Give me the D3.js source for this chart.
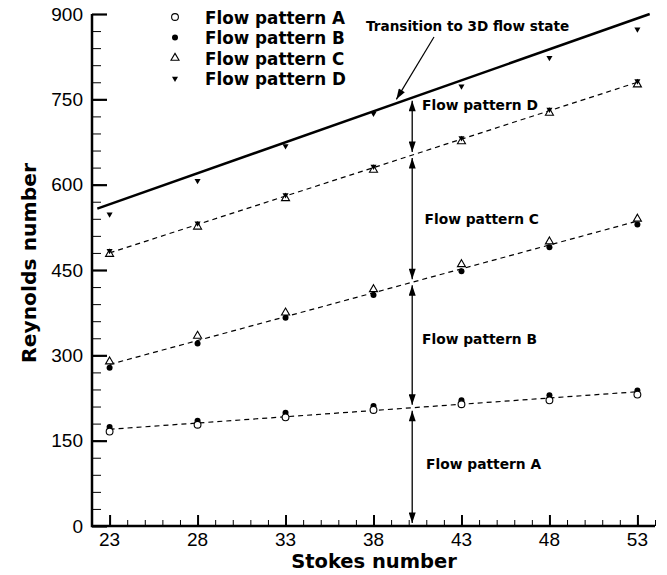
<!DOCTYPE html>
<html><head><meta charset="utf-8">
<script src="https://cdn.jsdelivr.net/npm/d3@7"></script>
<style>body{margin:0;background:#fff}svg{display:block}</style>
</head><body>
<svg id="c" width="667" height="575"></svg>
<script>
// ---- data ----
const stokes = [23, 28, 33, 38, 43, 48, 53];
const patternA = [166, 178, 191, 204, 214, 221, 231];          // open circles (upper limit of A)
const patternBLow = [174, 185, 199, 211, 221, 230, 238];       // filled circles (lower limit of B)
const patternBHigh = [278, 321, 366, 406, 448, 490, 530];      // filled circles (upper limit of B)
const patternCLow = [289, 334, 375, 416, 460, 500, 540];       // open triangles
const patternCHigh = [478, 526, 576, 626, 676, 726, 776];      // open triangles
const patternDLow = [484, 532, 582, 632, 682, 732, 782];       // filled down triangles
const patternDHigh = [548, 607, 668, 725, 773, 823, 873];      // filled down triangles
const lineAB = [[23, 170], [53, 236]];
const lineBC = [[23, 284], [53, 536]];
const lineCD = [[23, 480], [53, 780]];
const transitionLine = [[22.3, 558], [53.7, 900]];
const xMajorTicks = [23, 28, 33, 38, 43, 48, 53];
const yMajorTicks = [0, 150, 300, 450, 600, 750, 900];
const legendLabels = ["Flow pattern A", "Flow pattern B", "Flow pattern C", "Flow pattern D"];
const regionLabels = [
  {text: "Flow pattern D", x: 40.76, y: 731},
  {text: "Flow pattern C", x: 40.9, y: 531},
  {text: "Flow pattern B", x: 40.76, y: 320},
  {text: "Flow pattern A", x: 40.99, y: 100}
];
const arrowX = 40.2;
const transitionNote = {text: "Transition to 3D flow state", tipX: 39.3, tipY: 750};

// ---- chart ----
const svg = d3.select("#c");
const x = d3.scaleLinear().domain([22, 54]).range([92, 655]);
const y = d3.scaleLinear().domain([0, 900]).range([526, 14]);
const bold = "'DejaVu Sans', 'Open Sans', sans-serif";

// axes with inward ticks
const gx = svg.append("g").attr("transform", `translate(0,${y(0)})`);
gx.call(d3.axisTop(x).tickValues(d3.range(22, 55, 1)).tickSize(6).tickFormat(""));
gx.call(g => g.select(".domain").remove());
gx.selectAll("line").attr("stroke", "#000").attr("stroke-width", 1);
const gx2 = svg.append("g").attr("transform", `translate(0,${y(0)})`);
gx2.call(d3.axisTop(x).tickValues(xMajorTicks).tickSize(11).tickFormat(""));
gx2.select(".domain").remove();
gx2.selectAll("line").attr("stroke", "#000").attr("stroke-width", 2);
// x tick labels
svg.append("g").selectAll("text").data(xMajorTicks).join("text")
  .attr("x", d => x(d)).attr("y", 545.5).attr("text-anchor", "middle")
  .attr("font-family", "'Liberation Sans', Arial, sans-serif").attr("font-size", 19)
  .text(d => d);

const gy = svg.append("g").attr("transform", `translate(${x(22)},0)`);
gy.call(d3.axisRight(y).tickValues(d3.range(0, 901, 30)).tickSize(9).tickFormat(""));
gy.select(".domain").remove();
gy.selectAll("line").attr("stroke", "#000").attr("stroke-width", 1);
const gy2 = svg.append("g").attr("transform", `translate(${x(22)},0)`);
gy2.call(d3.axisRight(y).tickValues(yMajorTicks).tickSize(15).tickFormat(""));
gy2.select(".domain").remove();
gy2.selectAll("line").attr("stroke", "#000").attr("stroke-width", 2.2);
svg.append("g").selectAll("text").data(yMajorTicks).join("text")
  .attr("x", 83).attr("y", d => y(d) + 6.8).attr("text-anchor", "end")
  .attr("font-family", "'Liberation Sans', Arial, sans-serif").attr("font-size", 19)
  .text(d => d);

// axis lines
svg.append("path").attr("d", `M${x(22)},${y(900)}V${y(0)}H${x(54)}`)
  .attr("fill", "none").attr("stroke", "#000").attr("stroke-width", 2.5);

// axis titles
svg.append("text").attr("x", 374).attr("y", 568).attr("text-anchor", "middle")
  .attr("font-family", bold).attr("font-weight", "bold").attr("font-size", 19.5)
  .text("Stokes number");
svg.append("text").attr("transform", `translate(36,${263}) rotate(-90)`).attr("text-anchor", "middle")
  .attr("font-family", bold).attr("font-weight", "bold").attr("font-size", 20.3)
  .text("Reynolds number");

// fit lines
const line = d3.line().x(d => x(d[0])).y(d => y(d[1]));
[lineAB, lineBC, lineCD].forEach(l => {
  svg.append("path").attr("d", line(l)).attr("fill", "none").attr("stroke", "#000")
    .attr("stroke-width", 1.2).attr("stroke-dasharray", "5,4");
});
svg.append("path").attr("d", line(transitionLine)).attr("fill", "none")
  .attr("stroke", "#000").attr("stroke-width", 2.5);

// markers
const triUp = d3.symbol().type(d3.symbolTriangle).size(28);
const triDown = d3.symbol().type(d3.symbolTriangle).size(16);
function openCircles(vals) {
  svg.append("g").selectAll("circle").data(vals).join("circle")
    .attr("cx", (d, i) => x(stokes[i])).attr("cy", d => y(d)).attr("r", 3.4)
    .attr("fill", "#fff").attr("stroke", "#000").attr("stroke-width", 1.1);
}
function filledCircles(vals) {
  svg.append("g").selectAll("circle").data(vals).join("circle")
    .attr("cx", (d, i) => x(stokes[i])).attr("cy", d => y(d)).attr("r", 3)
    .attr("fill", "#000");
}
function openTri(vals) {
  svg.append("g").selectAll("path").data(vals).join("path")
    .attr("d", triUp).attr("transform", (d, i) => `translate(${x(stokes[i])},${y(d)})`)
    .attr("fill", "#fff").attr("stroke", "#000").attr("stroke-width", 1.1);
}
function downTri(vals) {
  svg.append("g").selectAll("path").data(vals).join("path")
    .attr("d", triDown).attr("transform", (d, i) => `translate(${x(stokes[i])},${y(d)}) rotate(180)`)
    .attr("fill", "#000");
}
filledCircles(patternBLow);
openCircles(patternA);
filledCircles(patternBHigh);
openTri(patternCLow);
openTri(patternCHigh);
downTri(patternDLow);
downTri(patternDHigh);

// legend
const lg = svg.append("g");
legendLabels.forEach((t, i) => {
  const ty = 23.5 + i * 20.5;
  lg.append("text").attr("x", 205).attr("y", ty).attr("font-family", bold)
    .attr("font-weight", "bold").attr("font-size", 16.8).text(t);
  const sx = 175, sy = ty - 6.5;
  if (i === 0) lg.append("circle").attr("cx", sx).attr("cy", sy).attr("r", 3.4).attr("fill", "#fff").attr("stroke", "#000").attr("stroke-width", 1.1);
  if (i === 1) lg.append("circle").attr("cx", sx).attr("cy", sy).attr("r", 3).attr("fill", "#000");
  if (i === 2) lg.append("path").attr("d", triUp).attr("transform", `translate(${sx},${sy})`).attr("fill", "#fff").attr("stroke", "#000").attr("stroke-width", 1.1);
  if (i === 3) lg.append("path").attr("d", triDown).attr("transform", `translate(${sx},${sy}) rotate(180)`).attr("fill", "#000");
});

// double arrows between regimes
const defs = svg.append("defs");
defs.append("marker").attr("id", "ah").attr("viewBox", "0 0 12 8").attr("refX", 12).attr("refY", 4)
  .attr("markerWidth", 12).attr("markerHeight", 7).attr("markerUnits", "userSpaceOnUse")
  .attr("orient", "auto-start-reverse")
  .append("path").attr("d", "M0,0L12,4L0,8Z").attr("fill", "#000");
const at = xx => l => l[0][1] + (l[1][1] - l[0][1]) * (xx - l[0][0]) / (l[1][0] - l[0][0]);
const bounds = [0, at(arrowX)(lineAB), at(arrowX)(lineBC), at(arrowX)(lineCD), at(arrowX)(transitionLine)];
for (let i = 0; i < bounds.length - 1; i++) {
  const y0 = y(bounds[i]) - 3, y1 = y(bounds[i + 1]) + 3;
  svg.append("line").attr("x1", x(arrowX)).attr("x2", x(arrowX)).attr("y1", y0).attr("y2", y1)
    .attr("stroke", "#000").attr("stroke-width", 1.3)
    .attr("marker-start", "url(#ah)").attr("marker-end", "url(#ah)");
}
svg.append("g").selectAll("text").data(regionLabels).join("text")
  .attr("x", d => x(d.x)).attr("y", d => y(d.y)).attr("font-family", bold)
  .attr("font-weight", "bold").attr("font-size", 13.8).text(d => d.text);

// transition note
svg.append("text").attr("x", 366).attr("y", 31).attr("font-family", bold)
  .attr("font-weight", "bold").attr("font-size", 13.6).text(transitionNote.text);
svg.append("line").attr("x1", 434).attr("y1", 37).attr("x2", x(transitionNote.tipX)).attr("y2", y(transitionNote.tipY))
  .attr("stroke", "#000").attr("stroke-width", 1.2).attr("marker-end", "url(#ah)");
</script>
</body></html>
